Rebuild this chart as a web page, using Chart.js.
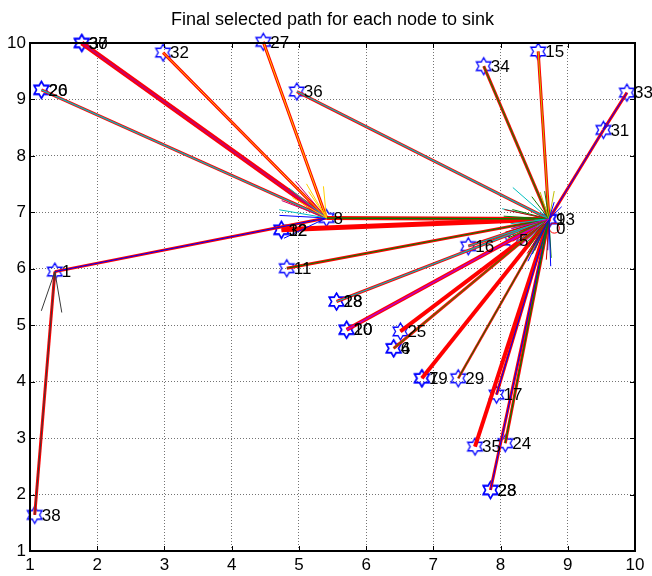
<!DOCTYPE html>
<html>
<head>
<meta charset="utf-8">
<script src="https://cdn.jsdelivr.net/npm/chart.js@4/dist/chart.umd.min.js"></script>
<style>
html, body { margin: 0; padding: 0; background: #fff; }
canvas { display: block; }
</style>
</head>
<body>
<canvas id="c" width="652" height="576"></canvas>
<script>
// Sensor nodes: printed id and field position (several ids share a spot)
const nodeIds = ['38','1','26','20','30','37','32','27','36','8','12','32','11','18','28','10','20',
                 '25','4','6','7','19','29','17','35','24','23','28','16','5','34','15','33','31','13','9','0'];
const nodeX = [1.07,1.37,1.17,1.17,1.77,1.77,2.98,4.47,4.97,5.41,4.74,4.74,4.82,5.56,5.56,5.71,5.71,
               6.51,6.41,6.41,6.83,6.83,7.37,7.94,7.62,8.07,7.85,7.85,7.52,8.17,7.75,8.56,9.88,9.53,8.72,8.72,8.72];
const nodeY = [1.64,5.95,9.17,9.17,10.0,10.0,9.83,10.02,9.14,6.90,6.69,6.69,6.01,5.42,5.42,4.92,4.92,
               4.89,4.59,4.59,4.06,4.06,4.06,3.77,2.85,2.91,2.08,2.08,6.40,6.50,9.59,9.85,9.12,8.46,6.88,6.88,6.72];

// Selected hops (start id -> next id) that make up every route to the sink
const hopFrom = ['38','1','26','30','32','27','36','8','12','11','34','15','33','31','16','18','10',
                 '25','4','7','29','17','35','24','23','5'];
const hopTo   = ['1','8','8','8','8','8','13','13','13','13','13','13','31','13','13','13','13',
                 '13','13','13','13','13','13','13','13','13'];

// Axis ticks
const tickValues = [1,2,3,4,5,6,7,8,9,10];

// Drawing styles for each hop
const hopInner = ['#3a3a3a','#0000ff','#00bfbf','#c8006a','#ffd000','#ffd000','#00bfbf','#008000','#ff0000','#008000',
                  '#207a00','#bfbf00','#0000ff','#0000ff','#00bfbf','#00bfbf','#bf00bf',
                  '#ff0000','#4a7a00','#ff0000','#008000','#0000ff','#ff0000','#008000','#0000ff','#bf00bf'];
const hopOuterW = [3,3,3,5,3,3,3,4,5,3,3,3,3,3,3,3,4,4,3,4,2.5,3,4,3,3,3];
const hopInnerW = [1,1,1.2,2,1,1,1.2,1.5,1,1,1.2,1,1,1,1.2,1.2,1.5,1,1.2,1,1,1,1,1.2,1,1];

const indexOf = id => nodeIds.indexOf(id);

// Hollow blue six-pointed marker
function hexagram(r) {
  const s = Math.ceil(2 * r + 4);
  const cv = document.createElement('canvas');
  cv.width = s; cv.height = s;
  const g = cv.getContext('2d');
  const c = s / 2, ri = r / Math.sqrt(3);
  g.beginPath();
  for (let k = 0; k < 12; k++) {
    const rr = k % 2 === 0 ? r : ri;
    const a = -Math.PI / 2 + k * Math.PI / 6;
    const px = c + rr * Math.cos(a), py = c + rr * Math.sin(a);
    k === 0 ? g.moveTo(px, py) : g.lineTo(px, py);
  }
  g.closePath();
  g.strokeStyle = '#0000ff';
  g.lineWidth = 1.3;
  g.stroke();
  return cv;
}
const starImg = hexagram(8.5);

const datasets = [];
// markers at the bottom of the stack
datasets.push({
  data: nodeIds.map((id, i) => ({x: nodeX[i], y: nodeY[i]})).filter((p, i) => nodeIds[i] !== '0'),
  pointStyle: starImg, pointRadius: 8, showLine: false, clip: false, order: 100
});
datasets.push({
  data: [{x: nodeX[indexOf('0')] + 0.08, y: nodeY[indexOf('0')]}],
  pointStyle: 'circle', pointRadius: 5, pointBorderColor: '#ff0000', pointBackgroundColor: 'rgba(0,0,0,0)',
  pointBorderWidth: 1, showLine: false, clip: false, order: 99
});
hopFrom.forEach((f, i) => {
  const a = indexOf(f), b = indexOf(hopTo[i]);
  const seg = [{x: nodeX[a], y: nodeY[a]}, {x: nodeX[b], y: nodeY[b]}];
  datasets.push({data: seg, showLine: true, pointRadius: 0, borderColor: '#ff0000',
                 borderWidth: hopOuterW[i], clip: false, order: 50});
  datasets.push({data: seg, showLine: true, pointRadius: 0, borderColor: hopInner[i],
                 borderWidth: hopInnerW[i], clip: false, order: 10});
});

const FONT = "'Liberation Sans', Arial, sans-serif";

// Arrow heads at the end of each hop
const arrowHeads = {
  id: 'arrowHeads',
  afterDatasetsDraw(chart) {
    const {ctx, scales: {x, y}} = chart;
    ctx.save();
    ctx.lineWidth = 1;
    hopFrom.forEach((f, i) => {
      const a = indexOf(f), b = indexOf(hopTo[i]);
      const x0 = x.getPixelForValue(nodeX[a]), y0 = y.getPixelForValue(nodeY[a]);
      const x1 = x.getPixelForValue(nodeX[b]), y1 = y.getPixelForValue(nodeY[b]);
      const len = Math.hypot(x0 - x1, y0 - y1);
      const ang = Math.atan2(y0 - y1, x0 - x1);
      const L = Math.min(len * 0.17, 48);
      ctx.strokeStyle = hopInner[i] === '#ff0000' ? '#cc0000' : hopInner[i];
      ctx.beginPath();
      [-0.25, 0.25].forEach(d => {
        ctx.moveTo(x1, y1);
        ctx.lineTo(x1 + L * Math.cos(ang + d), y1 + L * Math.sin(ang + d));
      });
      ctx.stroke();
    });
    ctx.restore();
  }
};

// Node ids, axes box, inward ticks and heading
const decorations = {
  id: 'decorations',
  afterDraw(chart) {
    const {ctx, chartArea: ca, scales: {x, y}} = chart;
    ctx.save();
    ctx.fillStyle = '#000';
    ctx.font = '17px ' + FONT;
    ctx.textBaseline = 'middle';
    ctx.textAlign = 'left';
    nodeIds.forEach((id, i) => {
      ctx.fillText(id, x.getPixelForValue(nodeX[i]) + 7, y.getPixelForValue(nodeY[i]) + 1);
    });

    ctx.strokeStyle = '#000';
    ctx.lineWidth = 1;
    ctx.beginPath();
    tickValues.forEach(v => {
      const px = Math.round(x.getPixelForValue(v)) + 0.5;
      ctx.moveTo(px, ca.bottom); ctx.lineTo(px, ca.bottom - 5);
      ctx.moveTo(px, ca.top); ctx.lineTo(px, ca.top + 5);
      const py = Math.round(y.getPixelForValue(v)) + 0.5;
      ctx.moveTo(ca.left, py); ctx.lineTo(ca.left + 5, py);
      ctx.moveTo(ca.right, py); ctx.lineTo(ca.right - 5, py);
    });
    ctx.stroke();

    ctx.lineWidth = 2;
    ctx.strokeRect(ca.left, ca.top, ca.right - ca.left, ca.bottom - ca.top);

    ctx.textAlign = 'center';
    ctx.textBaseline = 'middle';
    ctx.font = '18px ' + FONT;
    ctx.fillText('Final selected path for each node to sink', (ca.left + ca.right) / 2, 20);
    ctx.restore();
  }
};

const axisOpts = (fit) => ({
  type: 'linear', min: 1, max: 10,
  afterBuildTicks: s => { s.ticks = tickValues.map(v => ({value: v})); },
  afterFit: fit,
  ticks: {color: '#000', font: {family: FONT, size: 17}, padding: 4, autoSkip: false, maxRotation: 0},
  grid: {color: 'rgba(0,0,0,0.55)', lineWidth: 1, drawTicks: false},
  border: {display: false, dash: [1, 2]}
});

new Chart(document.getElementById('c'), {
  type: 'scatter',
  data: {datasets},
  options: {
    responsive: false,
    animation: false,
    devicePixelRatio: 1,
    layout: {padding: {top: 43, right: 17, left: 0, bottom: 0}},
    plugins: {legend: {display: false}, tooltip: {enabled: false}, title: {display: false}},
    scales: {
      x: axisOpts(s => { s.height = 25; }),
      y: axisOpts(s => { s.width = 30; })
    }
  },
  plugins: [arrowHeads, decorations]
});
</script>
</body>
</html>
